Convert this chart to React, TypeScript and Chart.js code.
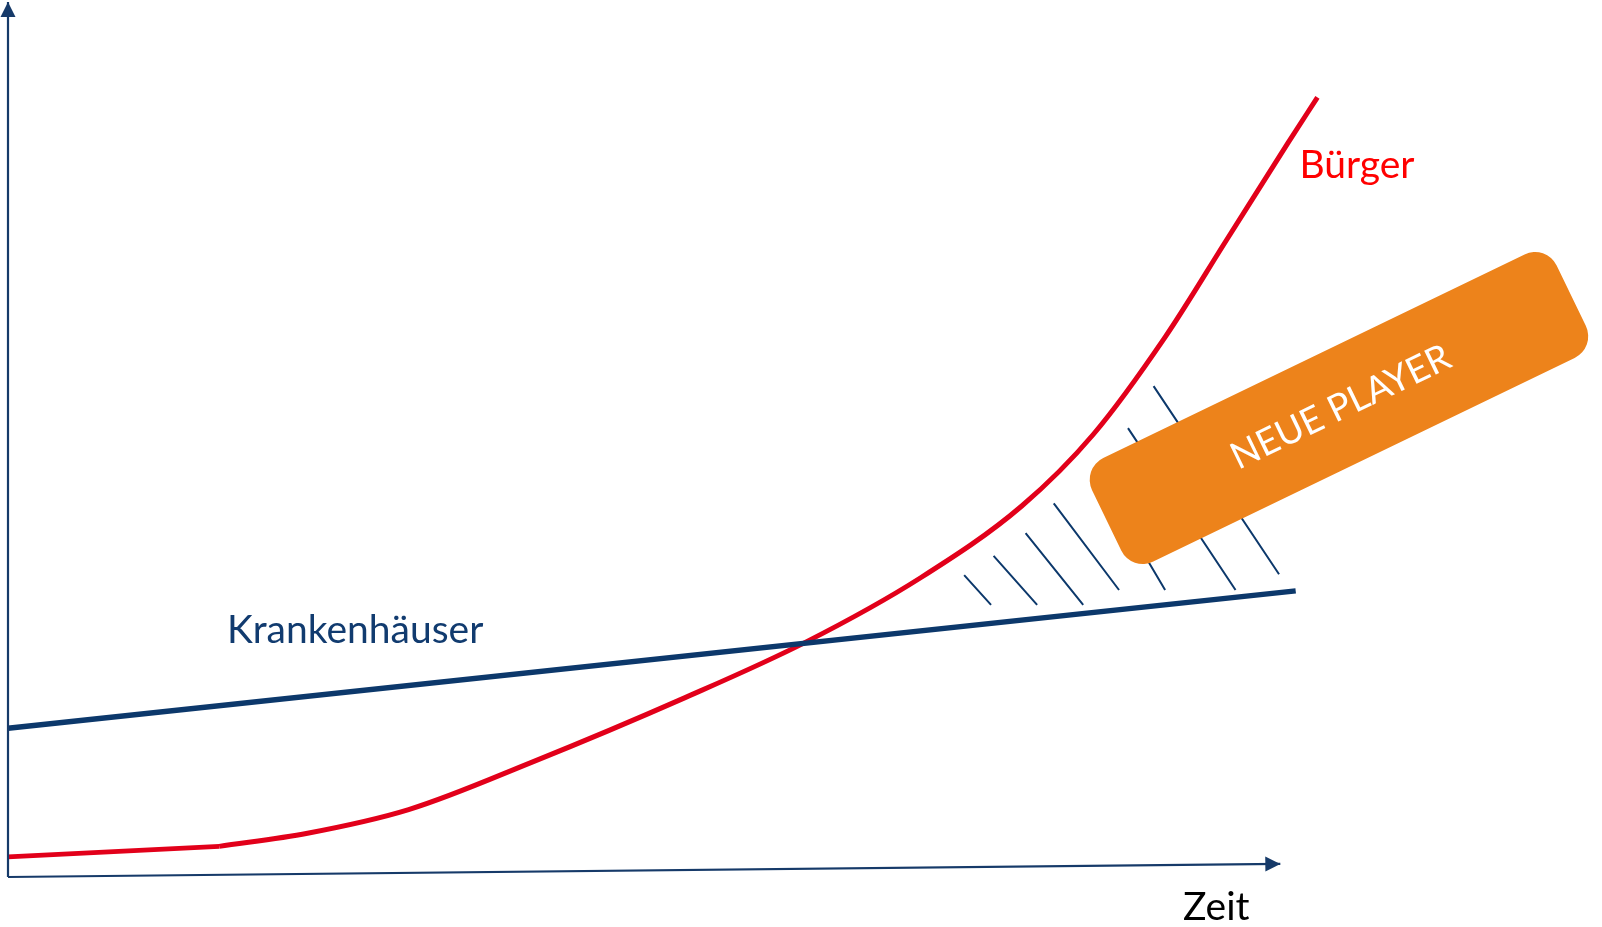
import React, { useEffect, useRef } from "react";
import { Chart, registerables } from "chart.js";

Chart.register(...registerables);

// ---- data (abstract units: x = Zeit 0..100, y = level 0..100) ----
const yAxisLine = [
  { x: 0, y: 0 },
  { x: 0, y: 100 },
];
const xAxisLine = [
  { x: 0, y: 0 },
  { x: 99.4, y: 1.5 },
];
const krankenhaeuser = [
  { x: 0, y: 17.0 },
  { x: 100.6, y: 32.7 },
];
// Bürger: flat start, then accelerating growth
const buergerStart = [
  { x: 0, y: 2.3 },
  { x: 16.5, y: 3.5 },
];
const buergerGrowth = [
  { x: 16.5, y: 3.5 },
  { x: 23.4, y: 5.0 },
  { x: 31.3, y: 7.7 },
  { x: 40.9, y: 13.1 },
  { x: 52.9, y: 20.5 },
  { x: 62.4, y: 26.9 },
  { x: 71.3, y: 34.2 },
  { x: 79.2, y: 42.4 },
  { x: 84.8, y: 50.6 },
  { x: 90.4, y: 61.7 },
  { x: 95.2, y: 72.8 },
  { x: 100, y: 83.9 },
  { x: 102.3, y: 89.1 },
];
const hatchStarts = [
  { x: 74.7, y: 34.5 },
  { x: 77.0, y: 36.7 },
  { x: 79.5, y: 39.3 },
  { x: 81.7, y: 42.7 },
  { x: 85.8, y: 44.2 },
  { x: 87.5, y: 51.3 },
  { x: 89.5, y: 56.1 },
];
const hatchEnds = [
  { x: 76.8, y: 31.1 },
  { x: 80.4, y: 31.1 },
  { x: 84.0, y: 31.1 },
  { x: 86.8, y: 32.8 },
  { x: 90.4, y: 32.8 },
  { x: 95.9, y: 32.8 },
  { x: 99.3, y: 34.6 },
];

const AXIS_COLOR = "#163a69";
const BLUE = "#0c386b";
const RED = "#e2001a";
const ORANGE = "#ed831b";
const FONT = "Lato, 'Open Sans', sans-serif";

const hatchData: any[] = [];
hatchStarts.forEach((s, i) => {
  hatchData.push(s, hatchEnds[i], { x: (s.x + hatchEnds[i].x) / 2, y: null });
});

const decorPlugin = {
  id: "decor",
  afterDatasetsDraw(chart: any) {
    const ctx = chart.ctx as CanvasRenderingContext2D;
    const xs = chart.scales.x;
    const ys = chart.scales.y;
    const px = (v: number) => xs.getPixelForValue(v);
    const py = (v: number) => ys.getPixelForValue(v);

    // arrow heads on axis datasets
    const arrow = (idx: number) => {
      const pts = chart.getDatasetMeta(idx).data;
      const a = pts[pts.length - 2];
      const b = pts[pts.length - 1];
      const ang = Math.atan2(b.y - a.y, b.x - a.x);
      const len = 15;
      const half = 7.5;
      ctx.save();
      ctx.translate(b.x, b.y);
      ctx.rotate(ang);
      ctx.beginPath();
      ctx.moveTo(0, 0);
      ctx.lineTo(-len, -half);
      ctx.lineTo(-len, half);
      ctx.closePath();
      ctx.fillStyle = AXIS_COLOR;
      ctx.fill();
      ctx.restore();
    };
    arrow(0);
    arrow(1);

    // orange box
    const cx = px(103.98);
    const cy = py(53.6);
    const w = 516;
    const h = 115;
    const r = 24;
    const rot = (-25.8 * Math.PI) / 180;
    ctx.save();
    ctx.translate(cx, cy);
    ctx.rotate(rot);
    ctx.beginPath();
    (ctx as any).roundRect(-w / 2, -h / 2, w, h, r);
    ctx.fillStyle = ORANGE;
    ctx.fill();
    ctx.fillStyle = "#ffffff";
    ctx.font = `37px ${FONT}`;
    ctx.textAlign = "center";
    ctx.textBaseline = "middle";
    ctx.fillText("NEUE PLAYER", 2, 0);
    ctx.restore();

    // labels
    ctx.save();
    ctx.textAlign = "left";
    ctx.textBaseline = "alphabetic";
    ctx.font = `39px ${FONT}`;
    ctx.fillStyle = "#113b6f";
    ctx.fillText("Krankenhäuser", px(17.1), py(26.8));
    ctx.fillStyle = "#ff0000";
    ctx.fillText("Bürger", px(100.9), py(79.9));
    ctx.font = `39px ${FONT}`;
    ctx.fillStyle = "#000000";
    ctx.fillText("Zeit", px(91.8), py(-4.9));
    ctx.restore();
  },
};

export default function App() {
  const ref = useRef<HTMLCanvasElement | null>(null);
  useEffect(() => {
    if (!ref.current) return;
    const chart = new Chart(ref.current, {
      type: "line",
      data: {
        datasets: [
          {
            data: yAxisLine,
            borderColor: AXIS_COLOR,
            borderWidth: 2.2,
            pointRadius: 0,
            clip: false,
          } as any,
          {
            data: xAxisLine,
            borderColor: AXIS_COLOR,
            borderWidth: 2.2,
            pointRadius: 0,
            clip: false,
          } as any,
          {
            data: krankenhaeuser,
            borderColor: BLUE,
            borderWidth: 5.5,
            pointRadius: 0,
            clip: false,
          } as any,
          {
            data: buergerStart,
            borderColor: RED,
            borderWidth: 5,
            pointRadius: 0,
            borderJoinStyle: "round",
            clip: false,
          } as any,
          {
            data: buergerGrowth,
            borderColor: RED,
            borderWidth: 5,
            pointRadius: 0,
            cubicInterpolationMode: "monotone",
            clip: false,
          } as any,
          {
            data: hatchData,
            borderColor: BLUE,
            borderWidth: 2,
            pointRadius: 0,
            spanGaps: false,
            clip: false,
          } as any,
        ],
      },
      options: {
        animation: false,
        responsive: true,
        maintainAspectRatio: false,
        layout: { padding: { left: 8, right: 186, top: 2, bottom: 50 } },
        scales: {
          x: { type: "linear", min: 0, max: 110, display: false },
          y: { type: "linear", min: 0, max: 100, display: false },
        },
        plugins: {
          legend: { display: false },
          tooltip: { enabled: false },
        },
        events: [],
      },
      plugins: [decorPlugin],
    });
    return () => chart.destroy();
  }, []);
  return (
    <div
      style={{
        position: "fixed",
        left: 0,
        top: 0,
        width: "1602px",
        height: "927px",
        background: "#ffffff",
      }}
    >
      <canvas ref={ref} />
    </div>
  );
}
